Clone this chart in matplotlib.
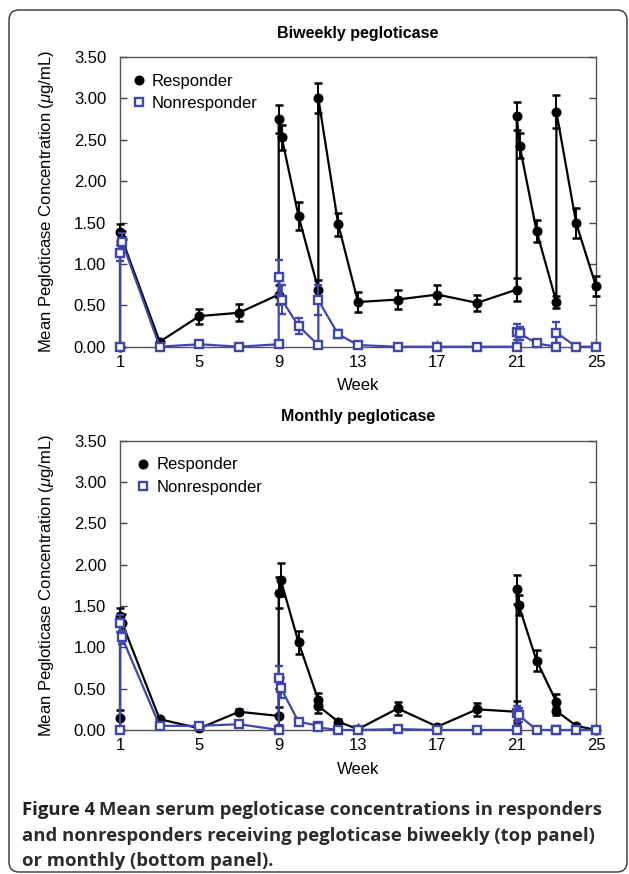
import matplotlib
matplotlib.use("Agg")
import matplotlib.pyplot as plt
from matplotlib.patches import FancyBboxPatch
from matplotlib.lines import Line2D
from matplotlib.transforms import IdentityTransform

plt.rcParams["font.family"] = ["Liberation Sans", "DejaVu Sans"]
plt.rcParams["mathtext.fontset"] = "custom"
plt.rcParams["mathtext.it"] = "Liberation Sans:italic"
plt.rcParams["mathtext.rm"] = "Liberation Sans"

# Sampling times (weeks); same schedule in both panels
weeks_biweekly = [1, 1, 1.1, 3, 5, 7, 9, 9, 9.15, 10, 11, 11, 12, 13, 15, 17, 19,
                  21, 21, 21.15, 22, 23, 23, 24, 25]
weeks_monthly = [1, 1, 1.1, 3, 5, 7, 9, 9, 9.1, 10, 11, 11, 12, 13, 15, 17, 19,
                 21, 21, 21.1, 22, 23, 23, 24, 25]

# Biweekly pegloticase
bi_resp = [0.0, 1.38, 1.30, 0.06, 0.37, 0.41, 0.63, 2.75, 2.53, 1.58, 0.69, 3.00,
           1.48, 0.54, 0.57, 0.63, 0.53, 0.69, 2.79, 2.43, 1.40, 0.54, 2.84, 1.49, 0.73]
bi_resp_err = [0.0, 0.10, 0.10, 0.02, 0.09, 0.10, 0.12, 0.17, 0.15, 0.17, 0.12, 0.18,
               0.14, 0.12, 0.11, 0.11, 0.10, 0.14, 0.17, 0.15, 0.13, 0.07, 0.20, 0.18, 0.12]
bi_nonresp = [0.0, 1.13, 1.27, 0.0, 0.03, 0.0, 0.03, 0.84, 0.57, 0.25, 0.02, 0.56,
              0.15, 0.02, 0.0, 0.0, 0.0, 0.0, 0.18, 0.16, 0.04, 0.0, 0.17, 0.0, 0.0]
bi_nonresp_err = [0.0, 0.10, 0.10, 0.0, 0.01, 0.0, 0.01, 0.21, 0.17, 0.10, 0.01, 0.18,
                  0.05, 0.01, 0.0, 0.0, 0.0, 0.0, 0.10, 0.08, 0.02, 0.0, 0.13, 0.0, 0.0]

# Monthly pegloticase
mo_resp = [0.14, 1.38, 1.30, 0.13, 0.02, 0.22, 0.17, 1.66, 1.82, 1.06, 0.36, 0.29,
           0.10, 0.01, 0.26, 0.04, 0.25, 0.22, 1.70, 1.51, 0.84, 0.34, 0.23, 0.05, 0.0]
mo_resp_err = [0.10, 0.10, 0.10, 0.02, 0.02, 0.03, 0.11, 0.19, 0.20, 0.14, 0.09, 0.09,
               0.03, 0.01, 0.08, 0.02, 0.08, 0.13, 0.18, 0.12, 0.13, 0.10, 0.05, 0.02, 0.0]
mo_nonresp = [0.0, 1.29, 1.12, 0.05, 0.05, 0.07, 0.0, 0.63, 0.51, 0.10, 0.05, 0.03,
              0.0, 0.0, 0.01, 0.0, 0.0, 0.0, 0.20, 0.18, 0.0, 0.0, 0.0, 0.0, 0.0]
mo_nonresp_err = [0.0, 0.10, 0.08, 0.01, 0.01, 0.01, 0.0, 0.14, 0.12, 0.03, 0.02, 0.01,
                  0.0, 0.0, 0.0, 0.0, 0.0, 0.0, 0.09, 0.08, 0.0, 0.0, 0.0, 0.0, 0.0]

week_ticks = [1, 5, 9, 13, 17, 21, 25]
conc_ticks = [0, 0.5, 1.0, 1.5, 2.0, 2.5, 3.0, 3.5]

BLUE = "#3f47ad"

fig = plt.figure(figsize=(6.29, 8.74), dpi=100)

# outer rounded frame
frame = FancyBboxPatch((9, 2), 618, 862, boxstyle="round,pad=0,rounding_size=10",
                       transform=IdentityTransform(), fill=False, edgecolor="#333333",
                       linewidth=1.0)
fig.patches.append(frame)

ax1 = fig.add_axes([0.1908, 0.6033, 0.7568, 0.3315])
ax2 = fig.add_axes([0.1908, 0.1648, 0.7568, 0.3310])


def draw_panel(ax, weeks, resp, resp_err, nonresp, nonresp_err, title, leg_x):
    ax.errorbar(weeks, resp, yerr=resp_err, color="black", marker="o", markersize=6.2,
                linewidth=1.6, elinewidth=1.4, capsize=3, capthick=1.8, clip_on=False,
                zorder=3)
    ax.errorbar(weeks, nonresp, yerr=nonresp_err, color=BLUE, marker="s", markersize=6,
                markerfacecolor="white", markeredgewidth=1.7, linewidth=1.6,
                elinewidth=1.4, capsize=3, capthick=1.8, clip_on=False, zorder=4)
    ax.set_xlim(1, 25)
    ax.set_ylim(0, 3.5)
    ax.set_xticks(week_ticks)
    ax.set_yticks(conc_ticks)
    ax.set_yticklabels([f"{t:.2f}" for t in conc_ticks])
    ax.tick_params(direction="in", length=5, width=1, labelsize=12, right=True,
                   color="#444444")
    ax.tick_params(axis="y", pad=10)
    ax.tick_params(axis="x", pad=6)
    for s in ax.spines.values():
        s.set_color("#555555")
        s.set_linewidth(1.0)
    ax.set_xlabel("Week", fontsize=12, labelpad=6)
    ax.set_ylabel(r"Mean Pegloticase Concentration ($\mu$g/mL)", fontsize=12,
                  labelpad=13)
    ax.set_title(title, fontsize=11.5, fontweight="bold", pad=14)
    handles = [
        Line2D([], [], color="black", marker="o", linestyle="none", markersize=6.2),
        Line2D([], [], color=BLUE, marker="s", linestyle="none", markersize=6,
               markerfacecolor="white", markeredgewidth=1.7),
    ]
    ax.legend(handles, ["Responder", "Nonresponder"], loc="upper left",
              bbox_to_anchor=(leg_x, 1.0), frameon=False, fontsize=12,
              handlelength=0.8, handletextpad=0.4, labelspacing=0.45,
              borderaxespad=0.6)


draw_panel(ax1, weeks_biweekly, bi_resp, bi_resp_err, bi_nonresp, bi_nonresp_err,
           "Biweekly pegloticase", -0.01)
draw_panel(ax2, weeks_monthly, mo_resp, mo_resp_err, mo_nonresp, mo_nonresp_err,
           "Monthly pegloticase", 0.0)

# caption with bold "Figure 4" prefix
cap_font = ["Open Sans", "DejaVu Sans"]
cap_color = "#231f20"
cap_size = 13.3
renderer = fig.canvas.get_renderer()
x0 = 22 / 629
y_lines = [1 - 810 / 874, 1 - 836 / 874, 1 - 861 / 874]
t_bold = fig.text(x0, y_lines[0], "Figure 4", fontsize=cap_size, fontweight="bold",
                  family=cap_font, color=cap_color, va="center")
bb = t_bold.get_window_extent(renderer=renderer)
fig.text(bb.x1 / fig.bbox.width + 4 / 629, y_lines[0],
         "Mean serum pegloticase concentrations in responders", fontsize=cap_size,
         fontweight="bold", family=cap_font, color="#2b2b2b", va="center")
fig.text(x0, y_lines[1], "and nonresponders receiving pegloticase biweekly (top panel)",
         fontsize=cap_size, fontweight="bold", family=cap_font, color="#2b2b2b",
         va="center")
fig.text(x0, y_lines[2], "or monthly (bottom panel).", fontsize=cap_size,
         fontweight="bold", family=cap_font, color="#2b2b2b", va="center")

fig.savefig("out.png", dpi=100)
